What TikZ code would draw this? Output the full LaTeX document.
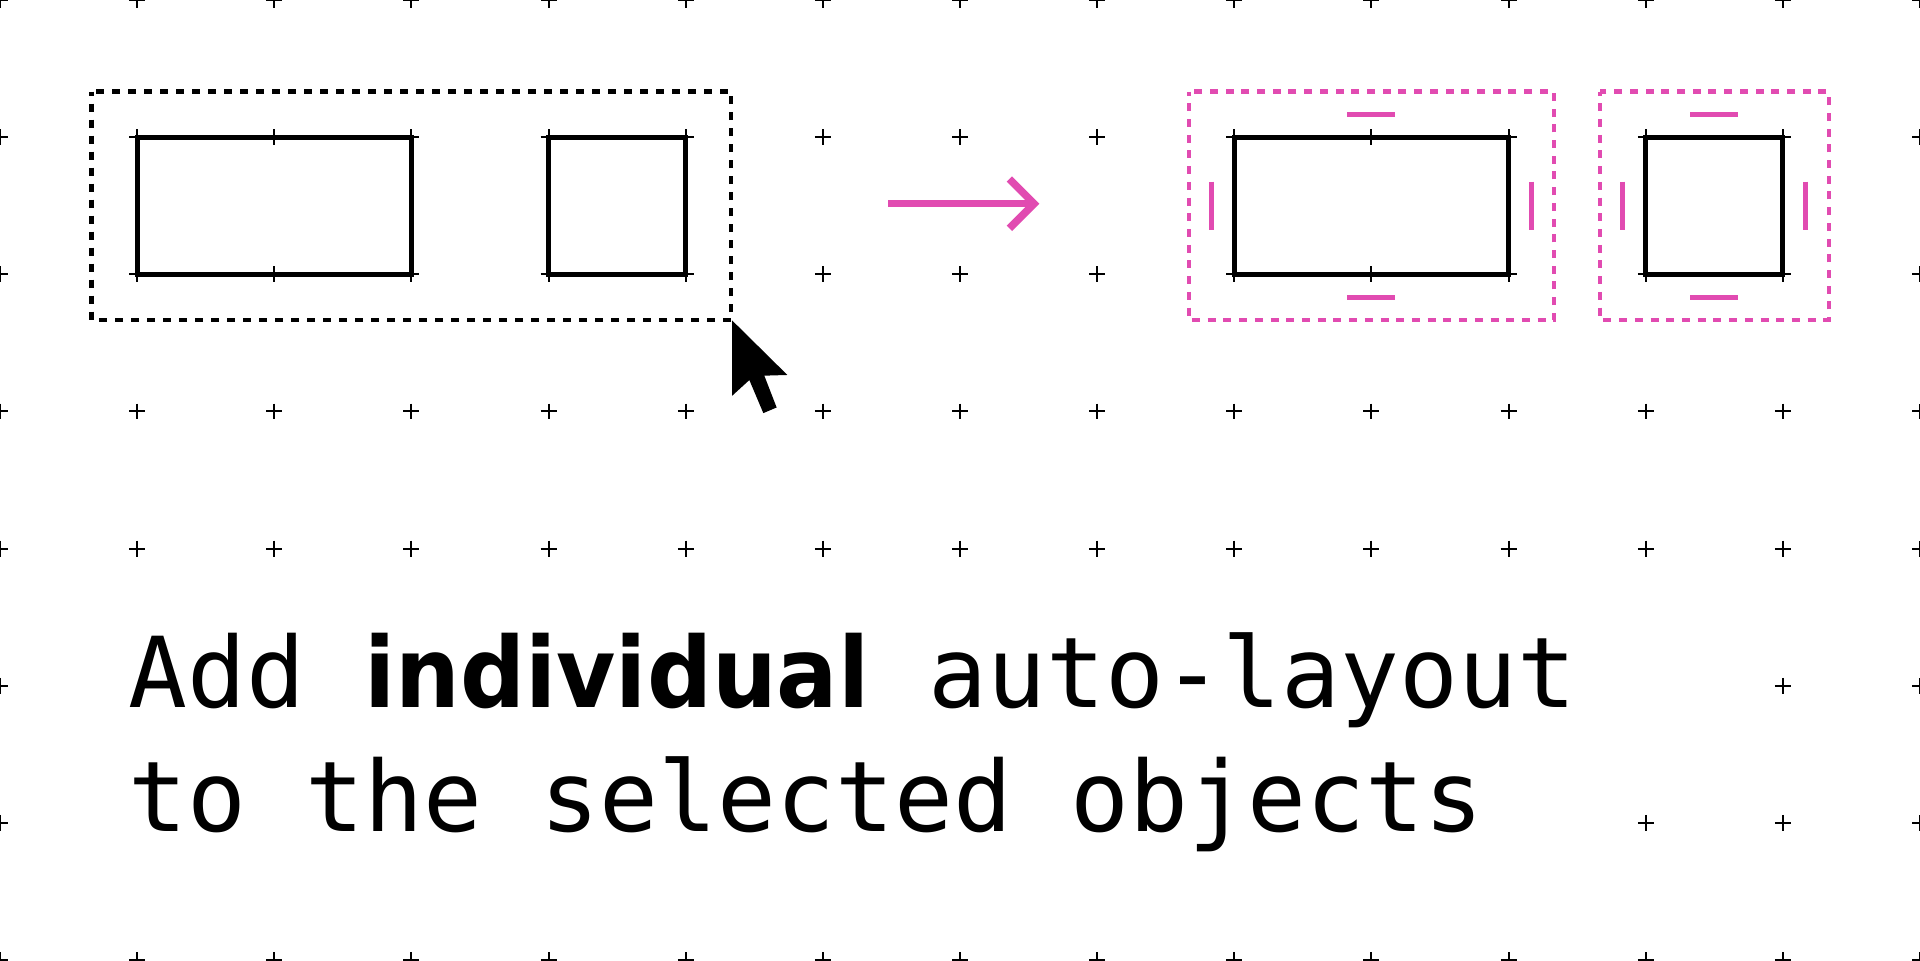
\documentclass[tikz,border=0pt]{standalone}
\usepackage{fontspec}
\newfontfamily\monof{DejaVu Sans Mono}
\newfontfamily\boldf[FakeStretch=0.93]{DejaVu Sans}
\definecolor{pinkc}{RGB}{225,75,177}
\tikzset{
  gridmark/.style={line width=0.4pt, black},
  objbox/.style={line width=1.0pt, black},
  selbox/.style={line width=0.85pt, black, dash pattern=on 1.66pt off 1.66pt, dash phase=0.8pt},
  padbox/.style={line width=0.85pt, pinkc, dash pattern=on 1.66pt off 1.6pt, dash phase=0.8pt},
  padmark/.style={line width=1.0pt, pinkc},
  flowarrow/.style={line width=1.55pt, pinkc},
  captext/.style={anchor=base west, inner sep=0pt, font=\monof\fontsize{20.3pt}{24pt}\selectfont}
}
\begin{document}
\begin{tikzpicture}[x=1cm, y=-1cm]
\useasboundingbox (0,0) rectangle (14,7);
\fill[white] (0,0) rectangle (14,7);
% grid of plus marks
\foreach \r in {0,...,7}{
  \foreach \c in {0,...,14}{
    \pgfmathtruncatemacro{\hide}{((\r==5) && (\c>=1) && (\c<=12)) || ((\r==6) && (\c>=1) && (\c<=11)) ? 1 : 0}
    \ifnum\hide=0
      \draw[gridmark] (\c-0.058,\r) -- (\c+0.058,\r) (\c,\r-0.058) -- (\c,\r+0.058);
    \fi
  }
}
% left: selection
\draw[selbox] (0.667,0.667) rectangle (5.333,2.333);
\draw[objbox] (1,1) rectangle (3,2);
\draw[objbox] (4,1) rectangle (5,2);
% cursor
\fill[black] (5.338,2.336) -- (5.338,2.886) -- (5.464,2.771) -- (5.566,3.012) -- (5.663,2.971)
  -- (5.573,2.739) -- (5.741,2.734) -- cycle;
% arrow
\coordinate (arrS) at (6.477,1.485);
\coordinate (arrE) at (7.54,1.485);
\draw[flowarrow] (arrS) -- (arrE);
\draw[flowarrow, miter limit=10] (7.36,1.305) -- (arrE) -- (7.36,1.665);
% right: individual auto-layout
\draw[padbox] (8.667,0.667) rectangle (11.333,2.333);
\draw[padbox] (11.667,0.667) rectangle (13.333,2.333);
\draw[objbox] (9,1) rectangle (11,2);
\draw[objbox] (12,1) rectangle (13,2);
% padding marks box 1
\draw[padmark] (9.825,0.833) -- (10.175,0.833);
\draw[padmark] (9.825,2.167) -- (10.175,2.167);
\draw[padmark] (8.833,1.325) -- (8.833,1.675);
\draw[padmark] (11.167,1.325) -- (11.167,1.675);
% padding marks box 2
\draw[padmark] (12.325,0.833) -- (12.675,0.833);
\draw[padmark] (12.325,2.167) -- (12.675,2.167);
\draw[padmark] (11.833,1.325) -- (11.833,1.675);
\draw[padmark] (13.167,1.325) -- (13.167,1.675);
% caption
\node[captext] (line1) at (0.93,5.158) {Add {\boldf\bfseries individual} auto-layout};
\node[captext] (line2) at (0.93,6.065) {to the selected objects};
\end{tikzpicture}
\end{document}
